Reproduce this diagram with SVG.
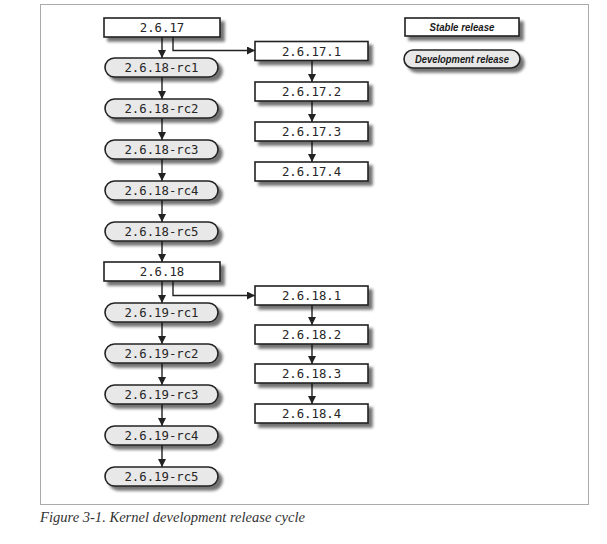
<svg xmlns="http://www.w3.org/2000/svg" width="607" height="544" viewBox="0 0 607 544">
<defs>
<filter id="sh" x="-10%" y="-30%" width="130%" height="190%">
<feGaussianBlur in="SourceAlpha" stdDeviation="1.6" result="b"/>
<feOffset dx="3.5" dy="3.5" result="o"/>
<feComponentTransfer in="o" result="s"><feFuncA type="linear" slope="0.55"/></feComponentTransfer>
<feMerge><feMergeNode in="s"/><feMergeNode in="SourceGraphic"/></feMerge>
</filter>
<marker id="ah" viewBox="0 0 10 10" refX="10" refY="5" markerWidth="8" markerHeight="8" markerUnits="userSpaceOnUse" orient="auto">
<path d="M0,0 L10,5 L0,10 z" fill="#222"/>
</marker>
</defs>
<style>
.box{fill:#fff;stroke:#222;stroke-width:1.6;filter:url(#sh)}
.pill{fill:#e8e8e8;stroke:#222;stroke-width:1.6;filter:url(#sh)}
.t{font-family:"DejaVu Sans Mono","Liberation Mono",monospace;font-size:12.3px;fill:#262626;text-anchor:middle}
.lg{font-family:"Liberation Sans",Arial,sans-serif;font-size:11px;font-weight:bold;font-style:italic;fill:#1a1a1a;text-anchor:middle}
.c{fill:none;stroke:#222;stroke-width:1.4;marker-end:url(#ah)}
</style>
<rect x="40.5" y="4.5" width="548" height="500" fill="#fff" stroke="#aaa" stroke-width="1"/>
<g id="connectors">
<path class="c" d="M162,37 V58"/>
<path class="c" d="M162,77 V99"/>
<path class="c" d="M162,118 V140"/>
<path class="c" d="M162,159 V181"/>
<path class="c" d="M162,200 V222"/>
<path class="c" d="M162,241 V262"/>
<path class="c" d="M162,281 V303"/>
<path class="c" d="M162,322 V344"/>
<path class="c" d="M162,363 V385"/>
<path class="c" d="M162,404 V426"/>
<path class="c" d="M162,445 V467"/>
<path class="c" d="M173,37 V50.5 H255"/>
<path class="c" d="M312,60.5 V82"/>
<path class="c" d="M312,101 V122"/>
<path class="c" d="M312,141 V162"/>
<path class="c" d="M173,281 V295.5 H255"/>
<path class="c" d="M312,305 V325"/>
<path class="c" d="M312,344 V364"/>
<path class="c" d="M312,383 V404"/>
</g>
<g id="n2617"><rect class="box" x="104" y="18" width="116" height="19"/><text class="t" x="162" y="32">2.6.17</text></g>
<g id="n2618rc1"><rect class="pill" x="105" y="58" width="113" height="19" rx="9.5"/><text class="t" x="161.5" y="72">2.6.18-rc1</text></g>
<g id="n2618rc2"><rect class="pill" x="105" y="99" width="113" height="19" rx="9.5"/><text class="t" x="161.5" y="113">2.6.18-rc2</text></g>
<g id="n2618rc3"><rect class="pill" x="105" y="140" width="113" height="19" rx="9.5"/><text class="t" x="161.5" y="154">2.6.18-rc3</text></g>
<g id="n2618rc4"><rect class="pill" x="105" y="181" width="113" height="19" rx="9.5"/><text class="t" x="161.5" y="195">2.6.18-rc4</text></g>
<g id="n2618rc5"><rect class="pill" x="105" y="222" width="113" height="19" rx="9.5"/><text class="t" x="161.5" y="236">2.6.18-rc5</text></g>
<g id="n2618"><rect class="box" x="104" y="262" width="116" height="19"/><text class="t" x="162" y="276">2.6.18</text></g>
<g id="n2619rc1"><rect class="pill" x="105" y="303" width="113" height="19" rx="9.5"/><text class="t" x="161.5" y="317">2.6.19-rc1</text></g>
<g id="n2619rc2"><rect class="pill" x="105" y="344" width="113" height="19" rx="9.5"/><text class="t" x="161.5" y="358">2.6.19-rc2</text></g>
<g id="n2619rc3"><rect class="pill" x="105" y="385" width="113" height="19" rx="9.5"/><text class="t" x="161.5" y="399">2.6.19-rc3</text></g>
<g id="n2619rc4"><rect class="pill" x="105" y="426" width="113" height="19" rx="9.5"/><text class="t" x="161.5" y="440">2.6.19-rc4</text></g>
<g id="n2619rc5"><rect class="pill" x="105" y="467" width="113" height="19" rx="9.5"/><text class="t" x="161.5" y="481">2.6.19-rc5</text></g>
<g id="n26171"><rect class="box" x="255" y="41.5" width="113" height="19"/><text class="t" x="311.5" y="55.5">2.6.17.1</text></g>
<g id="n26172"><rect class="box" x="255" y="82" width="113" height="19"/><text class="t" x="311.5" y="96">2.6.17.2</text></g>
<g id="n26173"><rect class="box" x="255" y="122" width="113" height="19"/><text class="t" x="311.5" y="136">2.6.17.3</text></g>
<g id="n26174"><rect class="box" x="255" y="162" width="113" height="19"/><text class="t" x="311.5" y="176">2.6.17.4</text></g>
<g id="n26181"><rect class="box" x="255" y="286" width="113" height="19"/><text class="t" x="311.5" y="300">2.6.18.1</text></g>
<g id="n26182"><rect class="box" x="255" y="325" width="113" height="19"/><text class="t" x="311.5" y="339">2.6.18.2</text></g>
<g id="n26183"><rect class="box" x="255" y="364" width="113" height="19"/><text class="t" x="311.5" y="378">2.6.18.3</text></g>
<g id="n26184"><rect class="box" x="255" y="404" width="113" height="19"/><text class="t" x="311.5" y="418">2.6.18.4</text></g>
<g id="legend-stable"><rect class="box" x="405" y="18" width="114" height="18"/><text class="lg" x="462" y="31" textLength="65" lengthAdjust="spacingAndGlyphs">Stable release</text></g>
<g id="legend-dev"><rect class="pill" x="404" y="50" width="116" height="18" rx="9"/><text class="lg" x="462" y="63" textLength="94" lengthAdjust="spacingAndGlyphs">Development release</text></g>
<text x="40" y="522" font-family="Liberation Serif,'Times New Roman',serif" font-style="italic" font-size="14" fill="#333" textLength="265" lengthAdjust="spacingAndGlyphs">Figure 3-1. Kernel development release cycle</text>
</svg>
